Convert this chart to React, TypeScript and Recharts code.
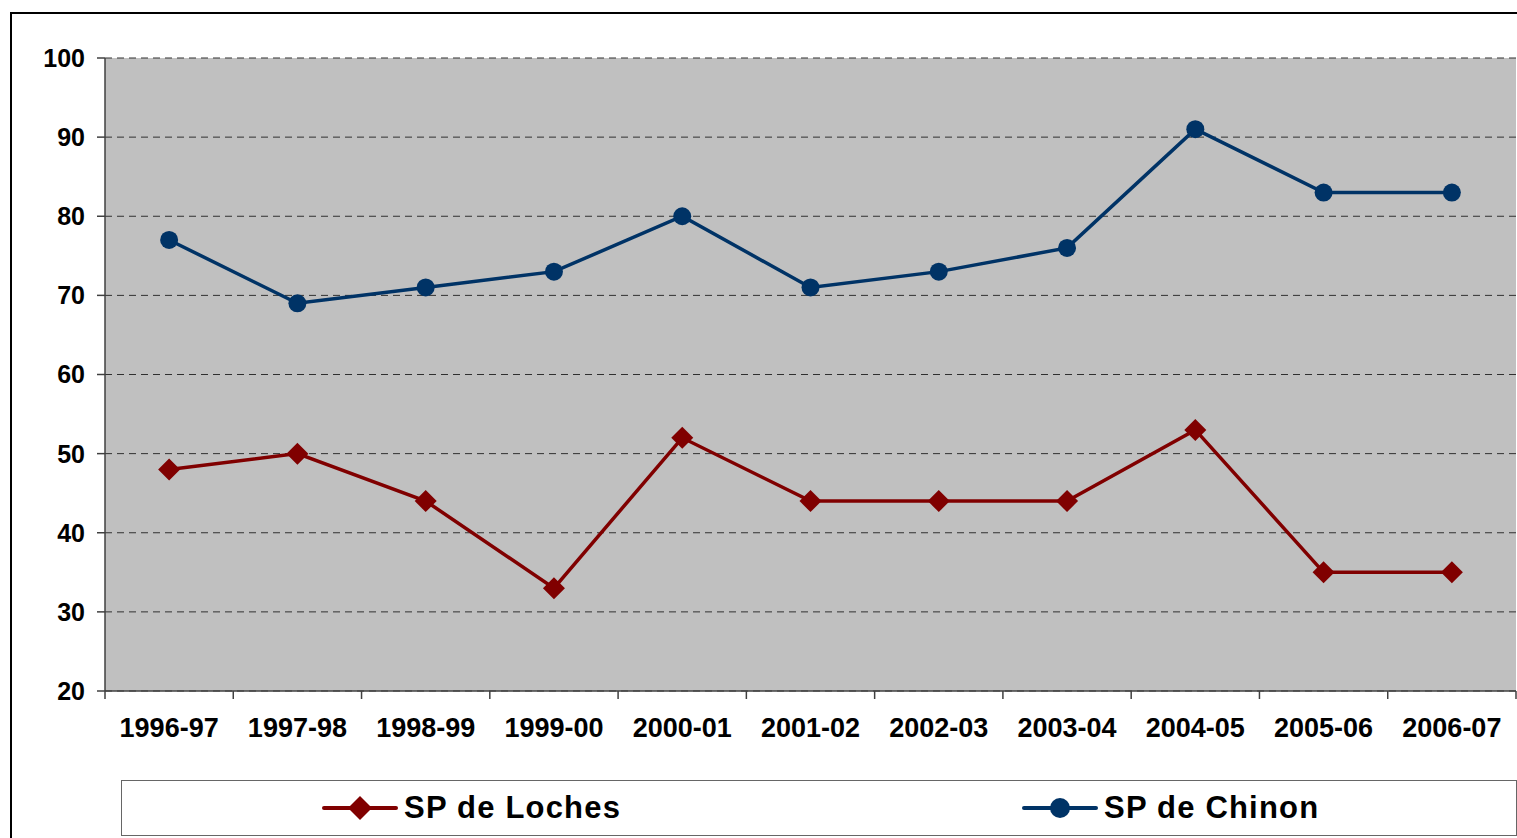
import { CartesianGrid, Legend, Line, LineChart, XAxis, YAxis } from "recharts"

const seasons = ["1996-97", "1997-98", "1998-99", "1999-00", "2000-01", "2001-02", "2002-03", "2003-04", "2004-05", "2005-06", "2006-07"]
const loches = [48, 50, 44, 33, 52, 44, 44, 44, 53, 35, 35]
const chinon = [77, 69, 71, 73, 80, 71, 73, 76, 91, 83, 83]
const yTicks = [20, 30, 40, 50, 60, 70, 80, 90, 100]

const data = seasons.map((season, i) => ({ season, loches: loches[i], chinon: chinon[i] }))

const W = 1517
const H = 838
const PLOT_LEFT = 105
const PLOT_RIGHT = 1516
const FONT = "'Liberation Sans', Arial, sans-serif"
const RED = "#800000"
const BLUE = "#003366"
const legendOrder = ["loches", "chinon"]

const Diamond = (props: any) => {
  const { cx, cy, color = RED, size = 11 } = props
  if (cx == null || cy == null) return null
  return (
    <path
      key={props.key}
      d={`M${cx},${cy - size} L${cx + size},${cy} L${cx},${cy + size} L${cx - size},${cy} Z`}
      fill={color}
    />
  )
}

const Dot = (props: any) => {
  const { cx, cy } = props
  if (cx == null || cy == null) return null
  return <circle key={props.key} cx={cx} cy={cy} r={9} fill={BLUE} />
}

const XTick = (props: any) => {
  const { x, y, payload, index } = props
  const step = (PLOT_RIGHT - PLOT_LEFT) / seasons.length
  return (
    <g>
      <line x1={x - step / 2} x2={x - step / 2} y1={y} y2={y + 8} stroke="#404040" strokeWidth={1.5} />
      {index === seasons.length - 1 && (
        <line x1={x + step / 2} x2={x + step / 2} y1={y} y2={y + 8} stroke="#404040" strokeWidth={1.5} />
      )}
      <text
        x={x}
        y={y + 37}
        textAnchor="middle"
        dominantBaseline="central"
        fontFamily={FONT}
        fontWeight="bold"
        fontSize={27}
        fill="#000"
      >
        {payload.value}
      </text>
    </g>
  )
}

const LegendBox = (props: any) => {
  const items = [...(props.payload ?? [])].sort(
    (a: any, b: any) => legendOrder.indexOf(a.dataKey) - legendOrder.indexOf(b.dataKey)
  )
  return (
    <div
      style={{
        width: "100%",
        height: "100%",
        boxSizing: "border-box",
        border: "1.5px solid #666",
        background: "#fff",
        display: "flex",
        alignItems: "center",
        paddingLeft: 200,
        overflow: "hidden",
      }}
    >
      {items.map((item: any) => (
        <div key={item.dataKey} style={{ width: 700, flexShrink: 0, display: "flex", alignItems: "center" }}>
          <svg width={76} height={30}>
            <line x1={2} x2={74} y1={15} y2={15} stroke={item.color} strokeWidth={4} strokeLinecap="round" />
            {item.dataKey === "loches" ? (
              <Diamond cx={38} cy={15} size={12} color={item.color} />
            ) : (
              <circle cx={38} cy={15} r={10} fill={item.color} />
            )}
          </svg>
          <span style={{ marginLeft: 6, fontFamily: FONT, fontWeight: "bold", fontSize: 31, letterSpacing: 1.2, color: "#000" }}>
            {item.value}
          </span>
        </div>
      ))}
    </div>
  )
}

export default function App() {
  return (
    <div style={{ position: "absolute", left: 0, top: 0, width: W, height: H, overflow: "hidden", background: "#fff" }}>
      <div
        style={{
          position: "absolute",
          left: 10,
          top: 12,
          width: 1600,
          height: 900,
          border: "2px solid #000",
        }}
      />
      <div style={{ position: "absolute", left: 0, top: 0 }}>
        <LineChart width={W} height={H} data={data} margin={{ top: 58, right: W - PLOT_RIGHT, bottom: 0, left: 0 }}>
          <CartesianGrid
            vertical={false}
            stroke="#303030"
            strokeDasharray="7 5"
            fill="#C0C0C0"
            fillOpacity={1}
          />
          <XAxis
            dataKey="season"
            scale="band"
            height={147}
            tickLine={false}
            tickSize={0}
            tickMargin={0}
            axisLine={{ stroke: "#404040", strokeWidth: 1.5 }}
            tick={<XTick />}
            interval={0}
          />
          <XAxis
            xAxisId="top"
            orientation="top"
            dataKey="season"
            scale="band"
            height={0}
            tick={false}
            tickLine={false}
            axisLine={{ stroke: "#808080", strokeWidth: 2.5 }}
          />
          <YAxis
            width={PLOT_LEFT}
            domain={[20, 100]}
            ticks={yTicks}
            interval={0}
            tickSize={8}
            tickMargin={12}
            axisLine={{ stroke: "#404040", strokeWidth: 1.5 }}
            tickLine={{ stroke: "#404040", strokeWidth: 1.5 }}
            tick={{ fontFamily: FONT, fontWeight: "bold", fontSize: 25, fill: "#000" }}
          />
          <YAxis yAxisId="right" orientation="right" width={0} tick={false} tickLine={false} axisLine={{ stroke: "#808080", strokeWidth: 2.5 }} />
          <Legend
            layout="horizontal"
            verticalAlign="middle"
            align="center"
            wrapperStyle={{ position: "absolute", left: 121, top: 780, width: 1396, height: 56 }}
            content={<LegendBox />}
          />
          <Line
            name="SP de Loches"
            dataKey="loches"
            stroke={RED}
            strokeWidth={3.5}
            dot={<Diamond color={RED} />}
            activeDot={false}
            isAnimationActive={false}
          />
          <Line
            name="SP de Chinon"
            dataKey="chinon"
            stroke={BLUE}
            strokeWidth={3.5}
            dot={<Dot />}
            activeDot={false}
            isAnimationActive={false}
          />
        </LineChart>
      </div>
    </div>
  )
}
